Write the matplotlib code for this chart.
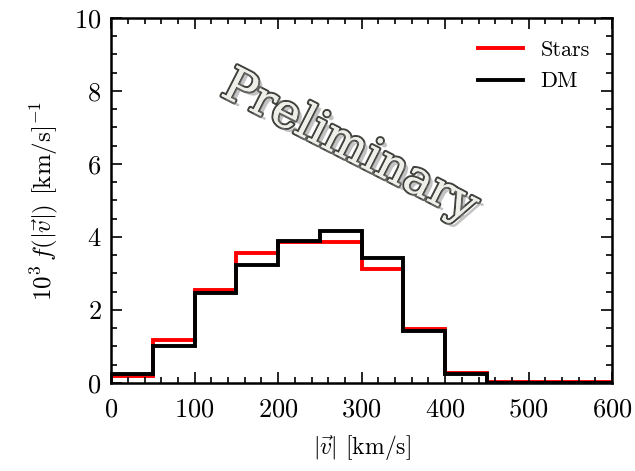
import numpy as np
import matplotlib
matplotlib.use('Agg')
import matplotlib.pyplot as plt
import matplotlib.patheffects as pe
from matplotlib.ticker import MultipleLocator

# bin edges in km/s and histogram heights (10^3 f)
bin_edges = [0, 50, 100, 150, 200, 250, 300, 350, 400, 450, 500, 550, 600]
stars = [0.20, 1.17, 2.55, 3.55, 3.87, 3.87, 3.12, 1.47, 0.26, 0.02, 0.02, 0.02]
dm    = [0.25, 1.00, 2.46, 3.23, 3.90, 4.16, 3.43, 1.41, 0.25, 0.01, 0.01, 0.01]

plt.rcParams['font.family'] = 'serif'
plt.rcParams['font.serif'] = ['cmr10']
plt.rcParams['mathtext.fontset'] = 'cm'
plt.rcParams['axes.formatter.use_mathtext'] = True

fig = plt.figure(figsize=(6.35, 4.71), dpi=100)
ax = fig.add_axes([0.175, 0.187, 0.789, 0.775])

ax.stairs(stars, bin_edges, color='red', linewidth=2.8, label='Stars')
ax.stairs(dm, bin_edges, color='black', linewidth=2.8, label='DM')

ax.set_xlim(0, 600)
ax.set_ylim(0, 10)
ax.xaxis.set_major_locator(MultipleLocator(100))
ax.xaxis.set_minor_locator(MultipleLocator(20))
ax.yaxis.set_major_locator(MultipleLocator(2))
ax.yaxis.set_minor_locator(MultipleLocator(0.5))
ax.tick_params(which='both', direction='in', top=True, right=True,
               labelsize=19, width=1.2)
ax.tick_params(which='major', length=8, pad=7)
ax.tick_params(axis='x', which='major', pad=11)
ax.tick_params(which='minor', length=4)
for s in ax.spines.values():
    s.set_linewidth(1.8)

ax.set_xlabel(r'$|\vec{v}|$ [km/s]', fontsize=17, labelpad=8)
ax.set_ylabel(r'$10^3\,f(|\vec{v}|)$ [km/s]$^{-1}$', fontsize=18, labelpad=10)

ax.legend(loc='upper right', frameon=False, fontsize=16, handlelength=2.0,
          labelspacing=0.55, borderaxespad=0.6)

ax.text(286, 6.45, 'Preliminary', rotation=-27, ha='center', va='center',
        fontsize=34, family='DejaVu Serif', color='#efefea',
        path_effects=[pe.withStroke(linewidth=3, foreground='#3f423d'),
                      pe.SimplePatchShadow(offset=(3, -3), shadow_rgbFace='#888888', alpha=0.5),
                      pe.Normal()])

plt.savefig('out.png', dpi=100)
plt.close()
